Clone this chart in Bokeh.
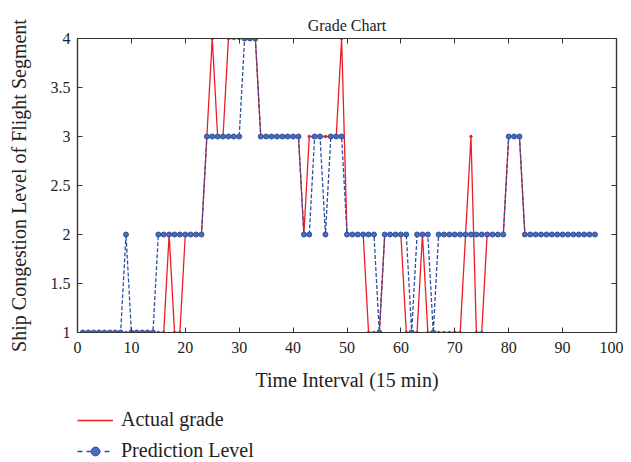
from bokeh.plotting import figure
from bokeh.layouts import column
from bokeh.models import LinearAxis, Legend, LegendItem, FixedTicker, Range1d, CustomJSTickFormatter
from bokeh.embed import file_html
from bokeh.resources import INLINE

time_idx = list(range(1, 97))
actual_grade = [1]*16 + [2, 1, 1] + [2]*4 + [3, 4, 3, 3] + [4]*6 + [3]*8 + [2] + [3]*6 + [4] \
    + [2]*4 + [1]*3 + [2]*4 + [1]*3 + [2] + [1]*7 + [2, 3, 1, 1] + [2]*4 + [3]*3 + [2]*14
prediction_level = [1]*8 + [2] + [1]*5 + [2]*9 + [3]*7 + [4]*3 + [3]*8 + [2, 2, 3, 3, 2, 3, 3, 3] \
    + [2]*6 + [1] + [2]*5 + [1] + [2]*3 + [1] + [2]*13 + [3]*3 + [2]*14

x_ticks = list(range(0, 101, 10))
y_ticks = [1, 1.5, 2, 2.5, 3, 3.5, 4]
legend_labels = ["Actual grade", "Prediction Level"]

FONT = "Liberation Serif"
RED = "#ee1c25"
BLUE = "#2e4f9e"
DOT = "#4a6cb8"
AX = "#333333"

p = figure(frame_width=539, frame_height=294, output_backend="svg", toolbar_location=None,
           x_range=Range1d(0, 100), y_range=Range1d(1, 4), title="Grade Chart",
           min_border_left=77, min_border_right=7, min_border_top=38, min_border_bottom=62)

p.title.align = "center"
p.title.text_font = FONT
p.title.text_font_size = "16px"
p.title.text_font_style = "normal"
p.title.text_color = "#222222"

p.grid.visible = False
p.outline_line_color = AX
p.outline_line_width = 1.2

fmt = CustomJSTickFormatter(code="return (tick % 1 === 0) ? tick.toFixed(0) : tick.toFixed(1);")
blank = CustomJSTickFormatter(code="return '';")

def style_axis(ax):
    ax.axis_line_color = AX
    ax.axis_line_width = 1.2
    ax.major_tick_in = 5
    ax.major_tick_out = 0
    ax.minor_tick_line_color = None
    ax.major_tick_line_color = AX
    ax.major_label_text_font = FONT
    ax.major_label_text_font_size = "16px"
    ax.major_label_text_color = "#222222"
    ax.major_label_standoff = 7
    ax.axis_label_text_font = FONT
    ax.axis_label_text_font_size = "20px"
    ax.axis_label_text_font_style = "normal"
    ax.axis_label_text_color = "#222222"

p.xaxis.ticker = FixedTicker(ticks=x_ticks)
p.yaxis.ticker = FixedTicker(ticks=y_ticks)
p.yaxis.formatter = fmt
p.xaxis.axis_label = "Time Interval (15 min)"
p.yaxis.axis_label = "Ship Congestion Level of Flight Segment"
style_axis(p.xaxis[0])
style_axis(p.yaxis[0])
p.xaxis.major_label_standoff = 9
p.xaxis.axis_label_standoff = 13
p.yaxis.axis_label_standoff = 18

top = LinearAxis(ticker=FixedTicker(ticks=x_ticks), formatter=blank)
style_axis(top)
top.major_label_standoff = 0
right = LinearAxis(ticker=FixedTicker(ticks=y_ticks), formatter=blank)
style_axis(right)
right.major_label_standoff = 0
p.add_layout(top, "above")
p.add_layout(right, "right")

p.line(time_idx, actual_grade, line_color=RED, line_width=1.3)
p.scatter(time_idx, actual_grade, size=2.5, fill_color=RED, line_color=RED)
p.line(time_idx, prediction_level, line_color=BLUE, line_width=1.3, line_dash="4 2")
p.scatter(time_idx, prediction_level, size=5, fill_color=DOT, line_color=BLUE, line_width=1)

# legend panel below the chart (its series sit outside its visible range)
lg = figure(width=615, height=68, output_backend="svg", toolbar_location=None,
            x_axis_type=None, y_axis_type=None, min_border=0,
            x_range=Range1d(0, 100), y_range=Range1d(10, 11))
lg.outline_line_color = None
lg.grid.visible = False
l1 = lg.line(time_idx, actual_grade, line_color=RED, line_width=1.3)
l2 = lg.line(time_idx, prediction_level, line_color=BLUE, line_width=1.3, line_dash="5 4")
l2p = lg.scatter(time_idx, prediction_level, size=3, fill_color=DOT, line_color=BLUE, line_width=1)

legend = Legend(items=[LegendItem(label=legend_labels[0], renderers=[l1]),
                       LegendItem(label=legend_labels[1], renderers=[l2, l2p])],
                location=(0, 0), orientation="vertical")
legend.label_text_font = FONT
legend.label_text_font_size = "20px"
legend.label_text_color = "#222222"
legend.glyph_width = 36
legend.glyph_height = 22
legend.label_height = 22
legend.label_standoff = 8
legend.spacing = 8
legend.border_line_alpha = 0
legend.background_fill_alpha = 0
legend.margin = 0
legend.padding = 0
lg.add_layout(legend, "center")

layout = column(p, lg, spacing=0)
open("out.html", "w").write(file_html(layout, INLINE))
